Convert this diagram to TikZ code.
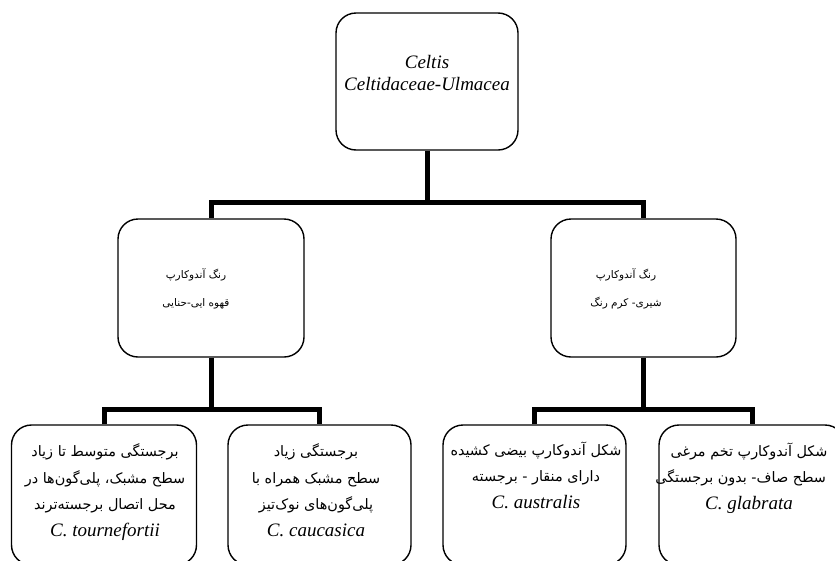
\documentclass[tikz,border=0pt]{standalone}
\usepackage{fontspec}
\setmainfont{Liberation Serif}
\newfontfamily\fa[Script=Arabic]{DejaVu Sans}
\TeXXeTstate=1
\newcommand{\faline}[1]{\beginR #1\endR}
\newcommand{\lat}[1]{{\rmfamily\itshape\fontsize{19pt}{26pt}\selectfont #1}}
\begin{document}
\begin{tikzpicture}[x=1pt,y=-1pt,
  box/.style={draw, line width=1.4pt, rounded corners=20pt, inner sep=0pt},
  conn/.style={line width=5pt, line join=miter},
  midtxt/.style={align=center, font=\fa\fontsize{10.5pt}{28pt}\selectfont},
  bottxt/.style={align=center, font=\fa\fontsize{14.4pt}{26.5pt}\selectfont},
  toptxt/.style={align=center, font=\itshape\fontsize{19pt}{22pt}\selectfont}]
\useasboundingbox (0,0) rectangle (835,560);
\fill[white] (0,0) rectangle (835,560);
% boxes
\node[box, minimum width=182pt, minimum height=137pt] (top) at (427,81.5) {};
\node[box, minimum width=186pt, minimum height=138pt] (ml) at (211,288) {};
\node[box, minimum width=185pt, minimum height=138pt] (mr) at (643.5,288) {};
\node[box, minimum width=185pt, minimum height=140pt] (b1) at (104,495) {};
\node[box, minimum width=183pt, minimum height=140pt] (b2) at (319.5,495) {};
\node[box, minimum width=183pt, minimum height=140pt] (b3) at (534.5,495) {};
\node[box, minimum width=186pt, minimum height=140pt] (b4) at (752,495) {};
% connectors
\coordinate (j0) at (427,202);
\coordinate (j1) at (211,409);
\coordinate (j2) at (643.5,409);
\draw[conn] (top.south) -- (top.south |- j0);
\draw[conn] (ml.north) |- (j0) -| (mr.north);
\draw[conn] (ml.south) -- (j1);
\draw[conn] (b1.north) |- (j1) -| (b2.north);
\draw[conn] (mr.south) -- (j2);
\draw[conn] (b3.north) |- (j2) -| (b4.north);
% texts
\node[toptxt] (ttop) at (427,73) {Celtis\\Celtidaceae-Ulmacea};
\node[midtxt] (tml) at (196,289) {\faline{رنگ آندوکارپ}\\\faline{قهوه ایی-حنایی}};
\node[midtxt] (tmr) at (626,289) {\faline{رنگ آندوکارپ}\\\faline{شیری- کرم رنگ}};
\node[bottxt] (tb1) at (105,492) {\faline{برجستگی متوسط تا زیاد}\\\faline{سطح مشبک، پلی‌گون‌ها در}\\\faline{محل اتصال برجسته‌ترند}\\\lat{C. tournefortii}};
\node[bottxt] (tb2) at (316,490) {\faline{برجستگی زیاد}\\\faline{سطح مشبک همراه با}\\\faline{پلی‌گون‌های نوک‌تیز}\\\lat{C. caucasica}};
\node[bottxt] (tb3) at (536,475) {\faline{شکل آندوکارپ بیضی کشیده}\\\faline{دارای منقار - برجسته}\\\lat{C. australis}};
\node[bottxt] (tb4) at (749,478) {\faline{شکل آندوکارپ تخم مرغی}\\\makebox[154pt][r]{\faline{سطح صاف- بدون برجستگی}}\\\lat{C. glabrata}};
\end{tikzpicture}
\end{document}
